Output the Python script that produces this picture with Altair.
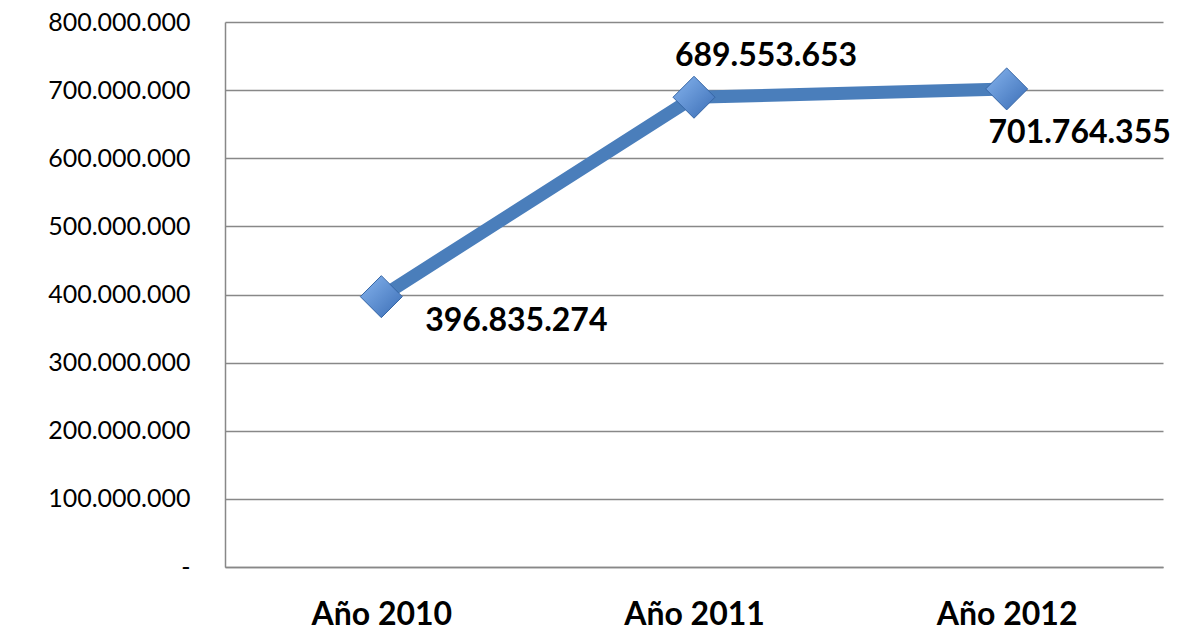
import altair as alt
import pandas as pd

years = ["Año 2010", "Año 2011", "Año 2012"]
values = [396835274, 689553653, 701764355]
y_ticks = [0, 100000000, 200000000, 300000000, 400000000, 500000000, 600000000, 700000000, 800000000]

df = pd.DataFrame({"year": years, "value": values})

FONT = "Lato"

x_enc = alt.X("year:N", sort=years, title=None,
              scale=alt.Scale(type="point", padding=0.5),
              axis=alt.Axis(labelAngle=0, labelFontSize=32, labelFontWeight="bold",
                            labelFont=FONT, labelColor="black", labelPadding=32,
                            ticks=False, grid=False, domainColor="#888888", domainWidth=1.5))
y_enc = alt.Y("value:Q", title=None,
              scale=alt.Scale(domain=[0, 800000000], nice=False),
              axis=alt.Axis(values=y_ticks, ticks=False, grid=True, gridColor="#888888",
                            gridWidth=1.5, domainColor="#888888", domainWidth=1.5,
                            labelFont=FONT, labelFontSize=25, labelColor="black",
                            labelPadding=35,
                            labelExpr="datum.value == 0 ? '-\u2007' : replace(format(datum.value, ','), regexp(',', 'g'), '.')"))

base = alt.Chart(df)

line = base.mark_line(color="#4a7ebb", strokeWidth=13).encode(x=x_enc, y=y_enc)

pts = base.mark_point(
    shape="diamond", size=1764, filled=True, opacity=1,
    fill=alt.LinearGradient(gradient="linear",
                            stops=[alt.GradientStop(color="#86b4ee", offset=0),
                                   alt.GradientStop(color="#3a6db5", offset=1)],
                            x1=0, x2=1, y1=0, y2=1),
    stroke="#3565a5", strokeWidth=1,
).encode(x="year:N", y="value:Q")

lab = base.transform_calculate(
    label="replace(format(datum.value, ','), regexp(',', 'g'), '.')"
)

def text_layer(yr, dx, dy):
    return lab.transform_filter(alt.datum.year == yr).mark_text(
        font=FONT, fontSize=32, fontWeight="bold", color="black",
        align="center", baseline="alphabetic", dx=dx, dy=dy
    ).encode(x="year:N", y="value:Q", text="label:N")

t1 = text_layer(years[0], 135, 34)
t2 = text_layer(years[1], 72, -31)
t3 = text_layer(years[2], 73, 54)

chart = alt.layer(line, pts, t1, t2, t3).properties(
    width=938, height=545,
    autosize=alt.AutoSizeParams(type="none"),
    padding={"left": 217, "top": 14, "right": 10, "bottom": 66},
    background="white",
).configure_view(stroke=None)

chart.save("out.html", embed_options={"renderer": "svg", "actions": False})
